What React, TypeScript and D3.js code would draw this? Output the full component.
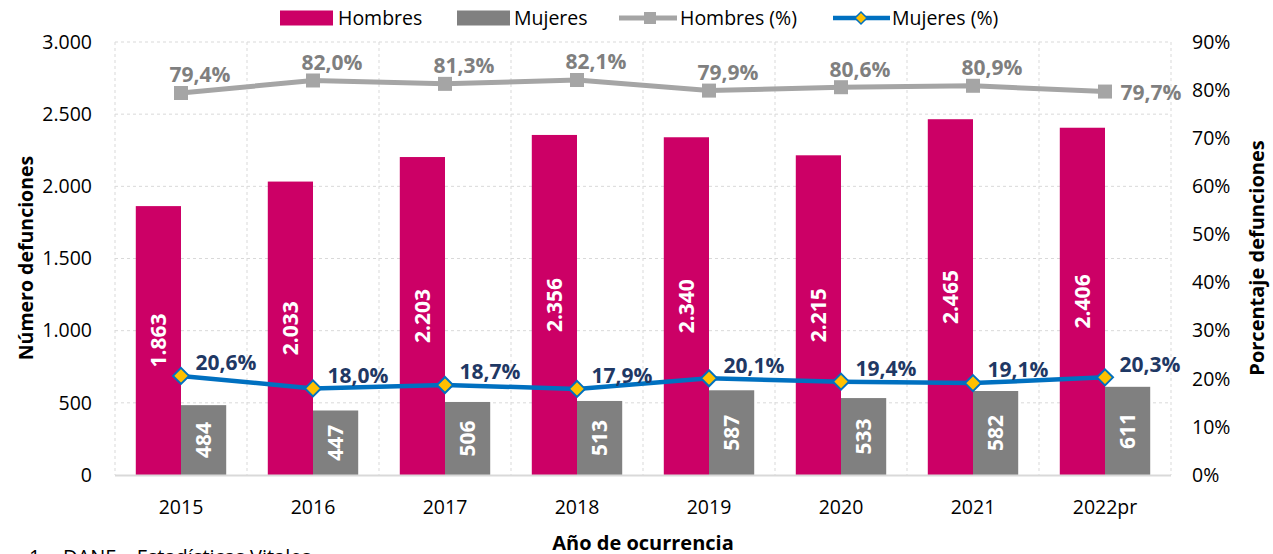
import React from "react";
import * as d3 from "d3";

const years = ["2015", "2016", "2017", "2018", "2019", "2020", "2021", "2022pr"];
const hombres = [1863, 2033, 2203, 2356, 2340, 2215, 2465, 2406];
const mujeres = [484, 447, 506, 513, 587, 533, 582, 611];
const hombresPct = [79.4, 82.0, 81.3, 82.1, 79.9, 80.6, 80.9, 79.7];
const mujeresPct = [20.6, 18.0, 18.7, 17.9, 20.1, 19.4, 19.1, 20.3];
const leftTicks = [0, 500, 1000, 1500, 2000, 2500, 3000];
const rightTicks = [0, 10, 20, 30, 40, 50, 60, 70, 80, 90];

const FONT = "'Segoe UI', 'Open Sans', sans-serif";
const C_H = "#CC0066";
const C_M = "#808080";
const C_HL = "#A5A5A5";
const C_ML = "#0070C0";
const C_GOLD = "#FFC000";
const C_HLAB = "#7F7F7F";
const C_MLAB = "#1F3864";
const GRID = "#D9D9D9";

const fmtNum = (v: number) => d3.format(",")(v).replace(/,/g, ".");
const fmtPct = (v: number) => v.toFixed(1).replace(".", ",") + "%";

export default function App() {
  const W = 1273, H = 575;
  const x0 = 115, x1 = 1171, yTop = 42, yBot = 475;
  const x = d3.scaleBand<string>().domain(years).range([x0, x1]).padding(0);
  const bw = x.bandwidth();
  const groupW = bw * 0.685;
  const xs = d3.scaleBand<string>().domain(["H", "M"]).range([0, groupW]).padding(0);
  const yL = d3.scaleLinear().domain([0, 3000]).range([yBot, yTop]);
  const yR = d3.scaleLinear().domain([0, 90]).range([yBot, yTop]);
  const cx = (y: string) => (x(y) as number) + bw / 2;
  const gx = (y: string) => cx(y) - groupW / 2;

  const lineH = d3.line<number>().x((_, i) => cx(years[i])).y((d) => yR(d));
  const lineM = d3.line<number>().x((_, i) => cx(years[i])).y((d) => yR(d));

  const legendY = 18;
  const TICK = 19.5;

  return (
    <svg width={W} height={H} style={{ position: "absolute", left: 0, top: 0, fontFamily: FONT }}>
      <rect width={W} height={H} fill="#fff" />
      {/* gridlines */}
      {leftTicks.slice(1).map((t) => (
        <line key={"h" + t} x1={x0} x2={x1} y1={yL(t)} y2={yL(t)} stroke={GRID} strokeDasharray="3,3" strokeWidth={1} />
      ))}
      {years.map((y, i) => (
        <line key={"v" + i} x1={x(y) as number} x2={x(y) as number} y1={yTop} y2={yBot} stroke={GRID} strokeDasharray="3,3" />
      ))}
      <line x1={x1} x2={x1} y1={yTop} y2={yBot} stroke={GRID} strokeDasharray="3,3" />
      {/* bars */}
      {years.map((y, i) => (
        <g key={"b" + y}>
          <rect x={gx(y) + (xs("H") as number)} y={yL(hombres[i])} width={xs.bandwidth()} height={yBot - yL(hombres[i])} fill={C_H} />
          <rect x={gx(y) + (xs("M") as number)} y={yL(mujeres[i])} width={xs.bandwidth()} height={yBot - yL(mujeres[i])} fill={C_M} />
        </g>
      ))}
      <line x1={x0} x2={x1} y1={yBot + 0.5} y2={yBot + 0.5} stroke={GRID} strokeWidth={2} />
      {/* bar labels */}
      {years.map((y, i) => {
        const hx = gx(y) + (xs("H") as number) + xs.bandwidth() / 2;
        const hy = (yL(hombres[i]) + yBot) / 2;
        const mx = gx(y) + (xs("M") as number) + xs.bandwidth() / 2;
        const my = (yL(mujeres[i]) + yBot) / 2;
        return (
          <g key={"bl" + y} fill="#fff" fontWeight="bold" fontSize={21}>
            <text transform={`translate(${hx},${hy}) rotate(-90)`} textAnchor="middle" dy="0.35em">{fmtNum(hombres[i])}</text>
            <text transform={`translate(${mx},${my}) rotate(-90)`} textAnchor="middle" dy="0.35em">{fmtNum(mujeres[i])}</text>
          </g>
        );
      })}
      {/* lines */}
      <path d={lineH(hombresPct) || ""} fill="none" stroke={C_HL} strokeWidth={5} />
      {hombresPct.map((v, i) => (
        <rect key={"hm" + i} x={cx(years[i]) - 7} y={yR(v) - 7} width={14} height={14} fill={C_HL} />
      ))}
      <path d={lineM(mujeresPct) || ""} fill="none" stroke={C_ML} strokeWidth={4.5} />
      {mujeresPct.map((v, i) => {
        const px = cx(years[i]), py = yR(v);
        return (
          <path key={"mm" + i} d={`M${px},${py - 8}L${px + 8},${py}L${px},${py + 8}L${px - 8},${py}Z`} fill={C_GOLD} stroke={C_ML} strokeWidth={2} />
        );
      })}
      {/* line labels */}
      {hombresPct.map((v, i) => {
        const last = i === hombresPct.length - 1;
        const px = cx(years[i]) + (last ? 46 : 19);
        const py = yR(v) + (last ? 1 : -18);
        return (
          <text key={"hl" + i} x={px} y={py} dy="0.35em" textAnchor="middle" fontWeight="bold" fontSize={21} fill={C_HLAB}>{fmtPct(v)}</text>
        );
      })}
      {mujeresPct.map((v, i) => (
        <text key={"ml" + i} x={cx(years[i]) + 45} y={yR(v) - 13} dy="0.35em" textAnchor="middle" fontWeight="bold" fontSize={21} fill={C_MLAB}>{fmtPct(v)}</text>
      ))}
      {/* axes */}
      {leftTicks.map((t) => (
        <text key={"lt" + t} x={92} y={yL(t)} dy="0.35em" textAnchor="end" fontSize={TICK} fill="#000">{fmtNum(t)}</text>
      ))}
      {rightTicks.map((t) => (
        <text key={"rt" + t} x={1192} y={yR(t)} dy="0.35em" textAnchor="start" fontSize={TICK} fill="#000">{t + "%"}</text>
      ))}
      {years.map((y) => (
        <text key={"xt" + y} x={cx(y)} y={507} dy="0.35em" textAnchor="middle" fontSize={TICK} fill="#000">{y}</text>
      ))}
      <text transform={`translate(26,258) rotate(-90)`} textAnchor="middle" dy="0.35em" fontWeight="bold" fontSize={19.5}>Número defunciones</text>
      <text transform={`translate(1257,258) rotate(-90)`} textAnchor="middle" dy="0.35em" fontWeight="bold" fontSize={20}>Porcentaje defunciones</text>
      <text x={643} y={543} dy="0.35em" textAnchor="middle" fontWeight="bold" fontSize={20}>Año de ocurrencia</text>
      <text x={29} y={564} fontSize={20}>1</text>
      <text x={63} y={564} fontSize={20}>DANE – Estadísticas Vitales</text>
      {/* legend */}
      <rect x={280} y={legendY - 7.5} width={53} height={15} fill={C_H} />
      <text x={338} y={legendY} dy="0.35em" fontSize={19.5}>Hombres</text>
      <rect x={457} y={legendY - 7.5} width={53} height={15} fill={C_M} />
      <text x={514} y={legendY} dy="0.35em" fontSize={19.5}>Mujeres</text>
      <line x1={619} x2={677} y1={legendY} y2={legendY} stroke={C_HL} strokeWidth={5} />
      <rect x={644} y={legendY - 6} width={12} height={12} fill={C_HL} />
      <text x={680} y={legendY} dy="0.35em" fontSize={19.5}>Hombres (%)</text>
      <line x1={833} x2={890} y1={legendY} y2={legendY} stroke={C_ML} strokeWidth={4.5} />
      <path d={`M861,${legendY - 6}L867,${legendY}L861,${legendY + 6}L855,${legendY}Z`} fill={C_GOLD} stroke={C_ML} strokeWidth={1.5} />
      <text x={892} y={legendY} dy="0.35em" fontSize={19.5}>Mujeres (%)</text>
    </svg>
  );
}
